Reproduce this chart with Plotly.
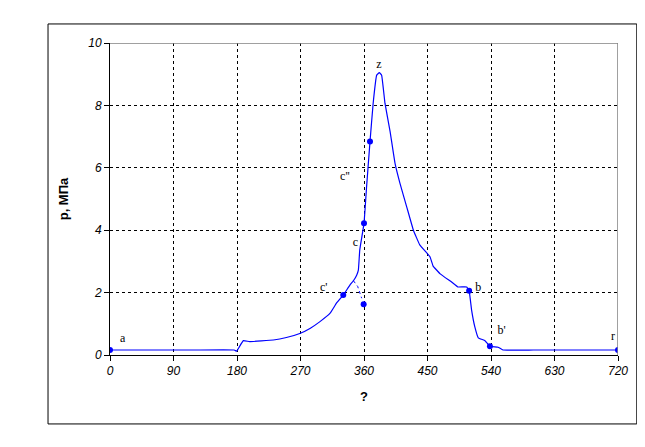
import plotly.graph_objects as go

# main pressure curve (crank angle, MPa)
phi = [0, 60, 120, 176, 179.5, 183, 189, 198, 231.5, 250, 269, 284, 297.6, 312, 321,
       330.6, 340, 345, 349.6, 352, 354, 360, 363.7, 368.5, 373, 378, 381.7,
       385, 389.7, 397, 404, 411, 420.5, 430, 439, 453.5, 458, 468, 484.6,
       493, 505.5, 509, 512.5, 517, 522, 531.5, 538.5, 550, 557, 600, 660, 720]
p = [0.16, 0.16, 0.16, 0.16, 0.12, 0.25, 0.46, 0.43, 0.48, 0.56, 0.69, 0.86, 1.07, 1.34, 1.66,
     1.92, 2.24, 2.38, 2.56, 2.72, 3.37, 4.22, 5.4, 6.84, 8.07, 8.97, 9.05,
     8.97, 8.07, 7.16, 6.14, 5.5, 4.75, 4.0, 3.53, 3.15, 2.85, 2.6, 2.33,
     2.18, 2.18, 2.06, 1.44, 0.91, 0.55, 0.46, 0.28, 0.25, 0.16, 0.16, 0.16, 0.16]

# motoring branch (dotted)
mot_phi = [345, 351, 356.7]
mot_p = [2.38, 2.2, 1.82]

# characteristic points
pt_phi = [0, 330.6, 360, 368.5, 359.5, 509, 538.5, 720]
pt_p = [0.16, 1.92, 4.22, 6.84, 1.63, 2.06, 0.28, 0.16]

# labels
lab_text = ["a", "c'", "c", "c''", "z", "b", "b'", "r"]
lab_phi = [18, 303, 348, 333, 381, 522, 555, 713]
lab_p = [0.5, 2.15, 3.6, 5.7, 9.3, 2.15, 0.77, 0.58]

x_ticks = [0, 90, 180, 270, 360, 450, 540, 630, 720]
y_ticks = [0, 2, 4, 6, 8, 10]

blue = "#0000FF"
fig = go.Figure()
fig.add_trace(go.Scatter(x=phi, y=p, mode="lines",
                         line=dict(color=blue, width=1.2, shape="spline", smoothing=0.25),
                         hoverinfo="skip"))
fig.add_trace(go.Scatter(x=mot_phi, y=mot_p, mode="lines",
                         line=dict(color=blue, width=1, dash="dot"), hoverinfo="skip"))
fig.add_trace(go.Scatter(x=pt_phi, y=pt_p, mode="markers",
                         marker=dict(color=blue, size=6), hoverinfo="skip"))
fig.add_trace(go.Scatter(x=lab_phi, y=lab_p, mode="text", text=lab_text,
                         textfont=dict(family="Liberation Serif", size=12, color="black"),
                         hoverinfo="skip"))

tickfont = dict(family="Liberation Sans", size=12, color="black", style="italic")
fig.update_layout(
    width=631, height=431,
    margin=dict(l=102, r=21, t=35, b=84),
    paper_bgcolor="white", plot_bgcolor="white",
    showlegend=False,
    xaxis=dict(range=[0, 720], tickvals=x_ticks, ticks="outside", ticklen=5,
               tickcolor="black", showline=True, linecolor="black", linewidth=1,
               showgrid=True, gridcolor="black", griddash="3px,3px", gridwidth=1,
               zeroline=False, tickfont=tickfont,
               title=dict(text="?", font=dict(family="Liberation Sans", size=13,
                                               color="black", weight="bold"), standoff=14)),
    yaxis=dict(range=[0, 10], tickvals=y_ticks, ticks="outside", ticklen=5,
               tickcolor="black", showline=True, linecolor="black", linewidth=1,
               showgrid=True, gridcolor="black", griddash="3px,3px", gridwidth=1,
               zeroline=False, tickfont=tickfont,
               title=dict(text="p, МПа", font=dict(family="Liberation Sans", size=13,
                                                    color="black", weight="bold"), standoff=16)),
    shapes=[
        dict(type="line", xref="x", yref="y", x0=0, x1=720, y0=10, y1=10,
             line=dict(color="gray", width=1.5), layer="above"),
        dict(type="line", xref="x", yref="y", x0=720, x1=720, y0=0, y1=10,
             line=dict(color="gray", width=1.5), layer="above"),
        dict(type="rect", xref="paper", yref="paper", x0=-0.122, x1=1.037,
             y0=-0.221, y1=1.061, line=dict(color="black", width=1)),
    ],
)
fig.write_html("out.html")
